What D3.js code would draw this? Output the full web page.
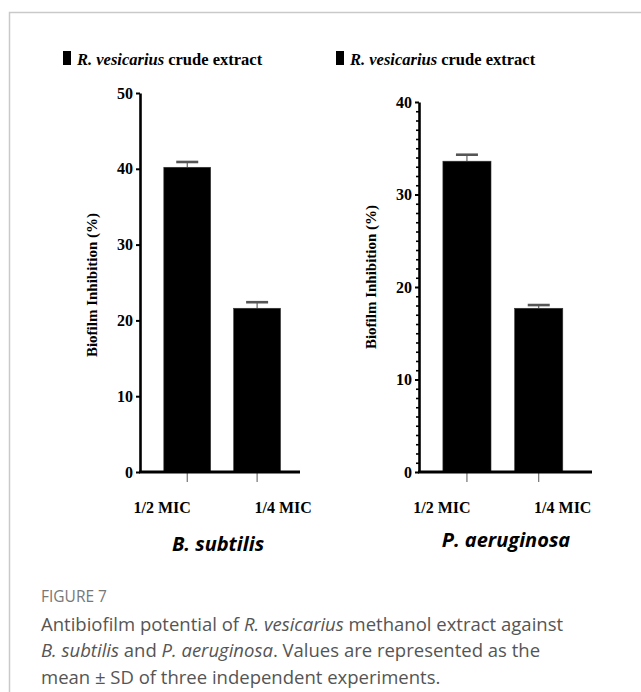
<!DOCTYPE html>
<html>
<head>
<meta charset="utf-8">
<script src="https://cdn.jsdelivr.net/npm/d3@7"></script>
<style>
  body { margin: 0; background: #fff; }
  svg { display: block; }
</style>
</head>
<body>
<div id="chart"></div>
<script>
// --- data ---
const categories = ["1/2 MIC", "1/4 MIC"];
const subtilisMean = [40.2, 21.6];
const subtilisSD = [0.7, 0.8];
const aeruginosaMean = [33.6, 17.7];
const aeruginosaSD = [0.7, 0.35];
const subtilisTicks = [0, 10, 20, 30, 40, 50];
const aeruginosaTicks = [0, 10, 20, 30, 40];
const legendLabel = ["R. vesicarius", " crude extract"];
const yTitle = "Biofilm Inhibition (%)";

const W = 641, H = 692;
const serif = "'Liberation Serif', 'Times New Roman', serif";
const sans = "'Open Sans', 'Noto Sans', sans-serif";

const svg = d3.select("#chart").append("svg")
    .attr("width", W)
    .attr("height", H);

// frame (top + left rule of the figure box)
svg.append("path")
    .attr("d", `M9.5,${H} L9.5,12.5 L${W},12.5`)
    .attr("fill", "none")
    .attr("stroke", "#c9c9c9")
    .attr("stroke-width", 1.5);

function drawPanel(p) {
    const g = svg.append("g");

    const y = d3.scaleLinear().domain([0, d3.max(p.ticks)]).range([472, p.yTop]);
    const x = d3.scaleBand().domain(categories)
        .range([p.x0, p.x1])
        .paddingInner(0.33)
        .paddingOuter(p.padOuter)
        .align(p.align);

    // legend
    g.append("rect")
        .attr("x", p.legendX).attr("y", 51)
        .attr("width", 8).attr("height", 14)
        .attr("fill", "#000");
    const lt = g.append("text")
        .attr("x", p.legendX + 14).attr("y", 65)
        .style("font-family", serif)
        .style("font-size", "16.5px")
        .style("font-weight", "700")
        .attr("fill", "#000");
    lt.append("tspan").style("font-style", "italic").text(legendLabel[0]);
    lt.append("tspan").text(legendLabel[1]);

    // bars
    g.selectAll(".bar").data(p.mean).enter().append("rect")
        .attr("x", (d, i) => x(categories[i]))
        .attr("y", d => y(d))
        .attr("width", x.bandwidth())
        .attr("height", d => y(0) - y(d))
        .attr("fill", "#000")
        .attr("stroke", "#333")
        .attr("stroke-width", 0.6);

    // error bars (upper half only)
    const eb = g.selectAll(".err").data(p.mean).enter().append("g");
    eb.append("line")
        .attr("x1", (d, i) => x(categories[i]) + x.bandwidth() / 2)
        .attr("x2", (d, i) => x(categories[i]) + x.bandwidth() / 2)
        .attr("y1", d => y(d))
        .attr("y2", (d, i) => y(d + p.sd[i]))
        .attr("stroke", "#444").attr("stroke-width", 1);
    eb.append("line")
        .attr("x1", (d, i) => x(categories[i]) + x.bandwidth() / 2 - 11)
        .attr("x2", (d, i) => x(categories[i]) + x.bandwidth() / 2 + 11)
        .attr("y1", (d, i) => y(d + p.sd[i]))
        .attr("y2", (d, i) => y(d + p.sd[i]))
        .attr("stroke", "#555").attr("stroke-width", 2.6);

    // minor y ticks
    if (p.minor) {
        const minorVals = d3.range(0, d3.max(p.ticks) + 1).filter(v => v % 10 !== 0);
        g.append("g")
            .attr("transform", `translate(${p.x0},0)`)
            .call(d3.axisLeft(y).tickValues(minorVals).tickSize(3).tickFormat(""))
            .call(a => a.select(".domain").remove())
            .call(a => a.selectAll("line").attr("stroke", "#000").attr("stroke-width", 1.6));
    }

    // y axis
    g.append("g")
        .attr("transform", `translate(${p.x0},0)`)
        .call(d3.axisLeft(y).tickValues(p.ticks).tickSize(4).tickSizeOuter(0).tickPadding(3))
        .call(a => a.select(".domain").attr("stroke", "#000").attr("stroke-width", 2.6))
        .call(a => a.selectAll(".tick line").attr("stroke", "#000").attr("stroke-width", 2))
        .call(a => a.selectAll("text")
            .style("font-family", serif)
            .style("font-size", "16px")
            .style("font-weight", "700")
            .attr("fill", "#000"));

    // x axis ticks + labels
    g.append("g")
        .attr("transform", `translate(0,${y(0)})`)
        .call(d3.axisBottom(x).tickSize(10).tickSizeOuter(0))
        .call(a => a.select(".domain").remove())
        .call(a => a.selectAll(".tick line").attr("stroke", "#555").attr("stroke-width", 1))
        .call(a => a.selectAll("text")
            .attr("y", 41).attr("dy", 0)
            .attr("dx", (d, i) => p.labelShift[i])
            .style("font-family", serif)
            .style("font-size", "16px")
            .style("font-weight", "700")
            .attr("fill", "#000"));

    // x baseline
    g.append("line")
        .attr("x1", p.x0 - 1).attr("x2", p.x1)
        .attr("y1", y(0)).attr("y2", y(0))
        .attr("stroke", "#000").attr("stroke-width", 3);

    // y title
    g.append("text")
        .attr("transform", `translate(${p.titleX},${p.titleY}) rotate(-90)`)
        .attr("text-anchor", "middle")
        .style("font-family", serif)
        .style("font-size", "15px")
        .style("font-weight", "700")
        .attr("fill", "#000")
        .text(yTitle);

    // organism name
    g.append("text")
        .attr("x", p.nameX).attr("y", p.nameY)
        .attr("text-anchor", "middle")
        .style("font-family", sans)
        .style("font-size", "20px")
        .style("font-weight", "700")
        .style("font-style", "italic")
        .attr("fill", "#000")
        .text(p.name);
}

drawPanel({
    mean: subtilisMean, sd: subtilisSD, ticks: subtilisTicks, minor: false,
    x0: 140, x1: 300, yTop: 93, padOuter: 0.31, align: 0.55,
    legendX: 63, labelShift: [-25, 26],
    titleX: 97, titleY: 285,
    name: "B. subtilis", nameX: 218, nameY: 551
});

drawPanel({
    mean: aeruginosaMean, sd: aeruginosaSD, ticks: aeruginosaTicks, minor: true,
    x0: 419, x1: 592, yTop: 102, padOuter: 0.37, align: 0.45,
    legendX: 336, labelShift: [-25, 24],
    titleX: 376, titleY: 277,
    name: "P. aeruginosa", nameX: 506, nameY: 547
});

// caption
const cap = svg.append("g").style("font-family", sans);
cap.append("text")
    .attr("x", 41).attr("y", 602)
    .style("font-size", "15.5px")
    .attr("fill", "#777")
    .text("FIGURE 7");

const captionLines = [
    [["Antibiofilm potential of ", false], ["R. vesicarius", true], [" methanol extract against", false]],
    [["B. subtilis", true], [" and ", false], ["P. aeruginosa", true], [". Values are represented as the", false]],
    [["mean \u00B1 SD of three independent experiments.", false]]
];
captionLines.forEach((line, i) => {
    const t = cap.append("text")
        .attr("x", 41).attr("y", 631 + i * 26.3)
        .style("font-size", "18.5px")
        .attr("fill", "#555");
    line.forEach(([s, it]) => {
        t.append("tspan").style("font-style", it ? "italic" : "normal").text(s);
    });
});
</script>
</body>
</html>
